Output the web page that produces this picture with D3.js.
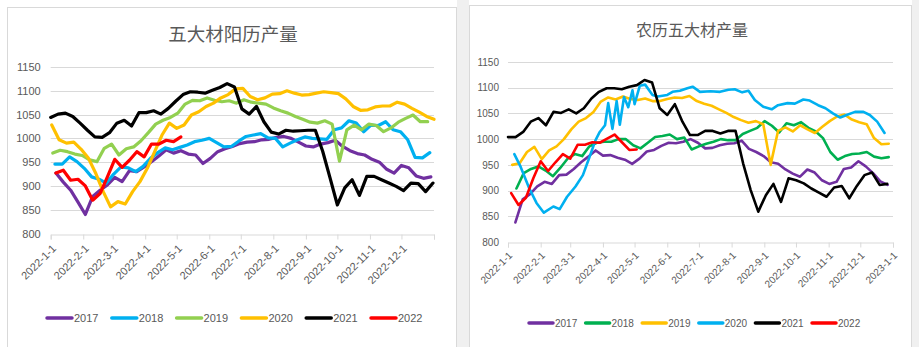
<!DOCTYPE html>
<html>
<head>
<meta charset="utf-8">
<script src="https://cdn.jsdelivr.net/npm/d3@7"></script>
<style>
  body { margin: 0; background: #fff; }
  svg { display: block; font-family: "Liberation Sans", Arial, sans-serif; }
</style>
</head>
<body>
<svg id="chart" width="919" height="347"></svg>
<script>
// ---------------- data ----------------
const years = ['2017', '2018', '2019', '2020', '2021', '2022'];
const yTicks = [800, 850, 900, 950, 1000, 1050, 1100, 1150];

// 阳历: weekly values, first point at day offset in 2022
const solar2017 = [927, 908, 891, 866, 840, 878, 891, 902, 918, 909, 932, 930, 940, 951, 963, 976, 969, 974, 967, 965, 947, 958, 972, 978, 983, 989, 992, 993, 997, 998, 1002, 1004, 1000, 992, 984, 982, 988, 991, 996, 983, 974, 968, 965, 956, 950, 935, 927, 943, 938, 921, 916, 919];
const solar2018 = [946, 946, 961, 951, 937, 919, 914, 906, 925, 940, 938, 930, 941, 958, 970, 980, 976, 981, 986, 993, 996, 1000, 991, 982, 983, 994, 1004, 1007, 1010, 1001, 1000, 982, 990, 997, 1003, 1000, 999, 998, 1018, 1022, 1037, 1032, 1014, 1028, 1027, 1035, 1018, 1014, 997, 960, 959, 970];
const solar2019 = [969, 975, 972, 967, 964, 955, 951, 979, 988, 965, 978, 982, 995, 1012, 1030, 1038, 1044, 1053, 1072, 1080, 1079, 1085, 1080, 1077, 1079, 1074, 1081, 1076, 1074, 1072, 1064, 1058, 1053, 1046, 1040, 1034, 1032, 1037, 1030, 952, 1018, 1028, 1018, 1030, 1027, 1014, 1022, 1034, 1042, 1049, 1035, 1035];
const solar2020 = [1028, 997, 990, 992, 977, 958, 926, 888, 856, 867, 862, 888, 909, 937, 972, 1007, 1032, 1021, 1028, 1049, 1056, 1067, 1074, 1085, 1092, 1104, 1105, 1088, 1081, 1085, 1093, 1094, 1100, 1095, 1091, 1092, 1095, 1098, 1096, 1094, 1083, 1067, 1059, 1060, 1066, 1068, 1068, 1076, 1072, 1063, 1055, 1046, 1040];
const solar2021 = [1044, 1051, 1053, 1046, 1032, 1017, 1003, 1002, 1012, 1032, 1038, 1026, 1054, 1054, 1058, 1051, 1063, 1078, 1092, 1098, 1097, 1095, 1101, 1107, 1115, 1108, 1062, 1051, 1067, 1035, 1013, 1009, 1017, 1015, 1016, 1017, 1017, 973, 917, 860, 896, 913, 880, 920, 920, 913, 906, 899, 890, 906, 905, 888, 906];
const solar2022 = [927, 933, 912, 914, 900, 870, 884, 919, 956, 939, 954, 972, 961, 988, 988, 996, 993, 1003];
const solarStart = [5, 4, 2, 1, 0, 5];
const solarStep = [7, 7, 7, 7, 7, 7];

// 农历
const lunar2017 = [838, 883, 893, 908, 917, 913, 930, 931, 942, 955, 966, 978, 968, 969, 964, 960, 952, 962, 976, 979, 987, 993, 992, 995, 1000, 993, 982, 983, 988, 991, 992, 997, 981, 975, 967, 955, 952, 941, 933, 927, 941, 935, 920, 913, 917, 942, 945, 957, 947, 934, 918, 911];
const lunar2018 = [904, 934, 942, 947, 939, 928, 944, 962, 971, 967, 986, 993, 995, 995, 1000, 1000, 988, 982, 993, 1004, 1006, 1009, 1000, 1003, 980, 986, 991, 995, 1000, 998, 998, 1010, 1016, 1022, 1035, 1026, 1013, 1031, 1027, 1033, 1022, 1015, 1002, 975, 960, 967, 971, 972, 975, 966, 963, 965];
const lunar2019 = [950, 953, 975, 985, 961, 978, 986, 1000, 1019, 1034, 1041, 1053, 1073, 1081, 1077, 1083, 1078, 1076, 1079, 1074, 1074, 1078, 1081, 1080, 1084, 1074, 1069, 1065, 1058, 1051, 1043, 1037, 1032, 1035, 1029, 950, 1016, 1023, 1015, 1027, 1019, 1012, 1024, 1035, 1044, 1048, 1038, 1033, 1029, 1002, 990, 991];
const lunar2020Days = [6, 12, 20, 27, 34, 43, 49, 56, 64, 71, 76, 83, 87, 92, 95, 99, 103, 106, 110, 114, 118, 120, 125, 130, 137, 142, 151, 156, 163, 170, 175, 182, 192, 201, 209, 215, 222, 228, 234, 242, 250, 256, 265, 272, 280, 286, 294, 301, 308, 315, 321, 329, 337, 343, 350, 357];
const lunar2020 = [971, 946, 905, 876, 857, 869, 864, 888, 908, 930, 958, 998, 1014, 1027, 1070, 1020, 1074, 1028, 1082, 1062, 1095, 1068, 1104, 1106, 1086, 1083, 1086, 1092, 1094, 1099, 1102, 1092, 1093, 1092, 1096, 1097, 1091, 1094, 1076, 1063, 1058, 1066, 1070, 1069, 1077, 1075, 1066, 1060, 1050, 1042, 1047, 1053, 1053, 1047, 1034, 1012];
const lunar2021 = [1004, 1004, 1014, 1034, 1041, 1027, 1053, 1051, 1058, 1050, 1060, 1079, 1092, 1099, 1099, 1097, 1102, 1105, 1115, 1110, 1060, 1047, 1068, 1034, 1008, 1008, 1016, 1016, 1011, 1016, 1016, 953, 901, 859, 891, 913, 878, 924, 920, 914, 904, 896, 888, 906, 909, 885, 909, 930, 935, 911, 913];
const lunar2022 = [895, 872, 886, 924, 957, 938, 955, 971, 962, 989, 989, 994, 993, 1001, 1009, 994, 979, 980];
const lunarStart = [7, 8, 4, null, 0, 3];
const lunarStep = [6.92, 6.92, 7.0, null, 7.19, 7.0];

const solarColors = ['#7030a0', '#00b0f0', '#92d050', '#ffc000', '#000000', '#ff0000'];
const lunarColors = ['#7030a0', '#00b050', '#ffc000', '#00b0f0', '#000000', '#ff0000'];

// ---------------- helpers ----------------
const DAY = 864e5;
const T0 = Date.UTC(2022, 0, 1);
const dayToDate = d => new Date(T0 + d * DAY);
const fmt = d3.utcFormat('%Y-%-m-%-d');
const months = d3.utcMonth.range(new Date(T0), new Date(Date.UTC(2023, 0, 2)));

function weekly(values, start, step) {
    return values.map((v, i) => ({date: dayToDate(start + i * step), value: v}));
}

const solarSeries = [solar2017, solar2018, solar2019, solar2020, solar2021, solar2022]
    .map((vals, i) => ({name: years[i], color: solarColors[i], points: weekly(vals, solarStart[i], solarStep[i])}));

const lunarSeries = [lunar2017, lunar2018, lunar2019, lunar2020, lunar2021, lunar2022]
    .map((vals, i) => ({
        name: years[i],
        color: lunarColors[i],
        points: i === 3
            ? vals.map((v, j) => ({date: dayToDate(lunar2020Days[j]), value: v}))
            : weekly(vals, lunarStart[i], lunarStep[i])
    }));

const svg = d3.select('#chart');

// background panels
svg.append('rect').attr('x', 457).attr('y', 0).attr('width', 12).attr('height', 347).attr('fill', '#f0f0f0');
svg.append('rect').attr('x', 912).attr('y', 0).attr('width', 7).attr('height', 347).attr('fill', '#f0f0f0');
svg.append('rect').attr('x', 7.5).attr('y', 7.5).attr('width', 449).attr('height', 345)
    .attr('fill', '#fff').attr('stroke', '#d9d9d9');
svg.append('rect').attr('x', 469.5).attr('y', 5.5).attr('width', 442).attr('height', 345)
    .attr('fill', '#fff').attr('stroke', '#d9d9d9');

function drawPanel(o) {
    const g = svg.append('g');
    const x = d3.scaleUtc().domain([new Date(T0), new Date(Date.UTC(2023, 0, 1))]).range([o.left, o.right]);
    const y = d3.scaleLinear().domain([800, 1150]).range([o.bottom, o.top]);

    // title
    g.append('text')
        .attr('x', o.titleX).attr('y', o.titleY)
        .attr('text-anchor', 'middle')
        .style('font-family', '"Noto Sans CJK SC", sans-serif')
        .style('font-size', o.titleSize + 'px')
        .style('fill', '#595959')
        .text(o.title);

    // gridlines
    g.selectAll('.grid').data(yTicks.slice(1)).enter()
        .append('line')
        .attr('x1', o.left).attr('x2', o.right)
        .attr('y1', d => Math.round(y(d)) + 0.5).attr('y2', d => Math.round(y(d)) + 0.5)
        .attr('stroke', '#d9d9d9').attr('stroke-width', 1);

    // y axis labels
    const yAxis = g.append('g')
        .attr('transform', 'translate(' + o.left + ',0)')
        .call(d3.axisLeft(y).tickValues(yTicks).tickFormat(d3.format('d')).tickSize(0).tickPadding(o.yPad));
    yAxis.select('.domain').remove();
    yAxis.selectAll('text').style('font-size', o.fontSize + 'px').style('fill', '#595959')
        .style('font-family', '"Liberation Sans", Arial, sans-serif');

    // x axis
    const xAxis = g.append('g')
        .attr('transform', 'translate(0,' + (Math.round(o.bottom) + 0.5) + ')')
        .call(d3.axisBottom(x).tickValues(months).tickSize(5)
            .tickFormat((d, i) => (i < months.length - 1 || o.lastLabel) ? fmt(d) : ''));
    xAxis.select('.domain').attr('stroke', '#d9d9d9');
    xAxis.selectAll('.tick line').attr('stroke', '#d9d9d9');
    xAxis.selectAll('text')
        .attr('x', 0).attr('y', 0).attr('dy', '0.35em')
        .attr('text-anchor', 'end')
        .attr('transform', 'translate(' + o.labelDx + ',' + o.labelDy + ') rotate(-45)')
        .style('font-size', o.fontSize + 'px').style('fill', '#595959')
        .style('font-family', '"Liberation Sans", Arial, sans-serif');

    // series
    const line = d3.line().x(d => x(d.date)).y(d => y(d.value));
    g.selectAll('.series').data(o.series).enter()
        .append('path')
        .attr('d', d => line(d.points))
        .attr('fill', 'none')
        .attr('stroke', d => d.color)
        .attr('stroke-width', o.lineWidth)
        .attr('stroke-linejoin', 'round')
        .attr('stroke-linecap', 'round');

    // legend
    const leg = g.selectAll('.legend').data(o.series).enter()
        .append('g')
        .attr('transform', (d, i) => 'translate(' + (o.legendX + i * o.legendGap) + ',' + o.legendY + ')');
    leg.append('line')
        .attr('x1', 0).attr('x2', o.legendLen).attr('y1', 0).attr('y2', 0)
        .attr('stroke', d => d.color).attr('stroke-width', 3.5).attr('stroke-linecap', 'round');
    leg.append('text')
        .attr('x', o.legendLen + 2).attr('y', 0).attr('dy', '0.35em')
        .style('font-size', o.fontSize + 'px').style('fill', '#595959')
        .text(d => d.name);
}

drawPanel({
    title: '五大材阳历产量', titleX: 233, titleY: 41, titleSize: 18.5,
    left: 50.7, right: 434, top: 67, bottom: 233.5,
    series: solarSeries, lineWidth: 3.2, fontSize: 11, yPad: 10,
    labelDx: 3, labelDy: 12, lastLabel: false,
    legendX: 47, legendGap: 64.8, legendY: 318, legendLen: 25
});

drawPanel({
    title: '农历五大材产量', titleX: 692, titleY: 36, titleSize: 16,
    left: 508, right: 893, top: 62, bottom: 242,
    series: lunarSeries, lineWidth: 2.6, fontSize: 10, yPad: 9,
    labelDx: 2, labelDy: 11, lastLabel: true,
    legendX: 529, legendGap: 56.6, legendY: 323, legendLen: 24
});
</script>
</body>
</html>
